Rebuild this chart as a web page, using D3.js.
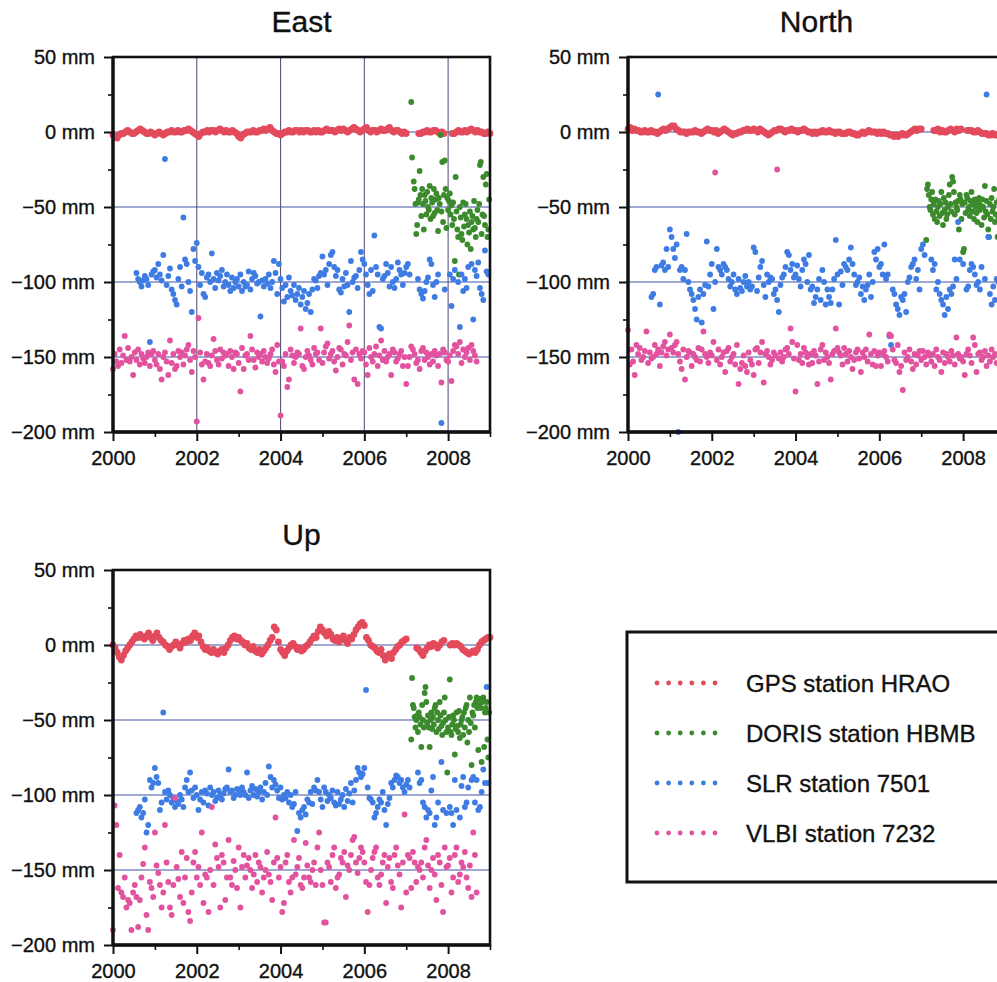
<!DOCTYPE html>
<html><head><meta charset="utf-8">
<script src="https://cdn.jsdelivr.net/npm/d3@7"></script>
<style>
body{margin:0;background:#fff}
svg{display:block}
text{font-family:"Liberation Sans",Arial,Helvetica,sans-serif;fill:#111;stroke:#111;stroke-width:0.35px}
</style>
</head><body>
<svg id="chart" width="997" height="982"></svg>
<script>
// ---------------- data ----------------
const seriesNames = ["GPS station HRAO","DORIS station HBMB","SLR station 7501","VLBI station 7232"];
const seriesColors = ["#e34a5c","#3b8a2c","#3e7ce4","#e2529e"];
const seriesOffsets = [0,-50,-100,-150];   // display offset of each technique (mm)
const panelTitles = ["East","North","Up"];
const yTickValues = [50,0,-50,-100,-150,-200];
const yMinorValues = [25,-25,-75,-125,-175];
const xTickValues = [2000,2002,2004,2006,2008];
const xMinorValues = [2001,2003,2005,2007,2009];
const gridValues = [0,-50,-100,-150];

// epochs: each row starts at rowStart[r] and advances by step
const gpsRowStart = [2000,2001,2002,2003,2004,2005,2006,2007,2008,2009], gpsStep = 0.05;
const slrRowStart = [2000.56,2001,2002,2003,2004,2005,2006,2007,2008], slrStep = 0.04;
const vlbiRowStart = [2000,2001,2002,2003,2004,2005,2006,2007,2008], vlbiStep = 0.04;
const dorisRowStart = [2007.12,2008], dorisStep = 0.02;

// residuals (mm) relative to offset
const eastGPS = [
 [-2,-3,-4,-2,-1,-1,0,1,0,-1,-1,0,1,2,1,0,-1,-1,0,-1],
 [-2,-1,0,-1,-2,-1,0,0,1,0,0,1,0,0,1,1,2,1,0,-1],
 [-2,-3,-1,0,0,1,0,1,1,0,1,2,1,0,1,0,0,1,0,-1],
 [-3,-4,-2,-1,0,0,0,1,0,0,1,1,2,1,2,3,1,0,-1,-1],
 [-2,-1,0,0,1,0,0,1,1,0,1,0,1,1,0,0,1,0,1,0],
 [0,1,2,1,1,1,0,1,2,1,2,1,0,1,2,3,2,1,0,1],
 [2,3,1,0,1,1,0,1,2,1,1,2,3,1,0,1,1,0,-1,0],
 [-1,null,null,null,null,null,-1,-1,0,0,1,0,0,1,1,0,-1,0,-1,null],
 [null,null,-1,-1,0,1,0,0,1,0,1,2,1,0,1,0,0,-1,-1,0],
 [-1]];
const eastDORIS = [
 [70,33,null,17,12,2,-18,-12,3,5,24,8,-6,12,2,-15,8,4,-5,10,0,-2,14,-8,6,3,-6,12,-4,5,9,-2,-16,6,2,48,-3,30,-10,8,31,12,-14,6],
 [-2,4,9,-5,1,-12,3,-8,-36,20,-3,-15,-20,-45,0,-7,-18,-22,3,-13,-5,2,-8,-25,-12,-17,-3,-28,-10,-6,-15,4,-14,-20,-8,-2,-10,2,28,30,-18,-5,20,-6,-12,15,22,-20,-15,5]];
const eastSLR = [
 [6,2,0,-3,1,4,2,-2,-40,5,7],
 [8,3,12,5,1,18,82,-2,4,9,-5,-8,-12,-15,2,10,-3,43,15,12,0,-6,-20,22,14],
 [26,10,-2,6,-8,-10,3,5,0,19,2,-4,6,1,4,8,-3,0,5,-2,-6,3,-4,0,2],
 [-3,5,-6,0,-3,-2,7,-5,2,6,4,-1,0,-23,1,-3,2,-1,5,-4,0,14,6,-8,12],
 [2,-4,-13,-2,-10,3,-6,-9,-2,-12,-8,-4,-15,-10,-6,-18,-14,-8,-20,-5,2,1,-4,4,6],
 [17,5,8,-2,12,18,20,10,4,8,-5,-7,2,-3,6,-2,-20,14,0,3,4,-4,8,20,15],
 [12,5,-2,-8,8,-6,31,10,5,-30,-31,2,4,12,6,-3,10,0,-4,2,13,8,5,-2,6],
 [10,12,5,null,null,null,null,2,-5,-8,-11,-6,0,3,15,12,-2,-10,0,5,null,-94,null,-5,null],
 [null,5,-16,2,8,null,0,-30,5,-6,2,-4,10,null,12,-25,8,4,13,-4,-8,-12,21,7,5]];
const eastVLBI = [
 [-8,2,-3,-6,5,-4,1,14,-2,6,-3,0,-12,3,-2,5,-5,2,-1,-4,0,3,-6,2,4],
 [-2,-5,2,-8,-15,0,3,-3,-12,11,-4,2,-8,-6,4,0,3,-5,1,5,8,-2,-10,4,0],
 [-43,26,3,-5,-15,-3,2,-4,-6,1,12,4,-2,-5,5,-1,3,1,2,-6,4,0,-8,3,2],
 [-4,-23,6,-8,1,2,-2,14,5,-2,-7,3,0,2,-3,4,0,-4,-1,2,5,-5,-10,8,-3],
 [-39,-3,-6,2,-20,-15,5,1,-4,0,3,2,19,-6,-8,0,4,1,-2,-5,6,2,3,-2,19],
 [-4,3,7,9,-1,2,4,-3,-9,0,6,5,-5,2,1,10,21,-2,3,-15,5,-18,2,-1,4],
 [3,-5,-12,6,0,-3,2,7,-6,1,11,-2,4,-3,0,2,-12,5,3,-3,-1,2,4,-6,0],
 [-18,-6,0,7,5,2,-4,-2,-8,4,6,-2,3,0,-5,2,-3,4,1,-6,2,-17,5,3,-2],
 [-3,1,-16,4,8,7,2,10,-4,5,0,3,6,-2,8,4,1,-3]];

const northGPS = [
 [2,3,1,2,1,1,0,0,1,0,0,1,0,0,-1,0,1,2,1,2],
 [3,4,4,2,1,0,0,0,-1,0,0,0,1,0,0,-1,0,1,2,1],
 [1,0,1,-1,0,1,2,1,0,-1,-2,-1,-1,0,0,1,1,2,1,1],
 [2,1,0,2,1,0,-1,-2,-1,0,1,1,2,2,1,0,1,1,2,1],
 [1,0,1,1,2,1,0,0,-1,0,-1,0,0,1,0,0,1,0,0,-1],
 [0,0,-1,-1,-1,0,0,-1,-1,-2,-2,-1,0,-1,0,1,0,0,0,-1],
 [0,-1,0,-1,-1,-2,-2,-3,-2,-3,-2,-1,-2,-2,-1,0,1,2,1,2],
 [2,null,null,null,null,null,1,1,2,0,1,0,0,1,2,1,0,2,1,2],
 [null,null,1,1,1,0,0,1,0,-1,-1,-1,-2,-2,-1,-2,-2,-1,-1,-2],
 [-2]];
const northDORIS = [
 [-22,12,15,8,0,-2,5,10,-5,2,-8,5,-3,-10,0,4,-6,2,10,-4,-12,6,-2,3,-8,-5,0,8,15,2,-3,20,17,10,-5,3,0,-2,4,-15,8,5,-8,2],
 [-30,-28,3,-4,8,6,-2,0,-6,4,10,-3,2,-8,5,0,-4,-10,3,6,-2,1,-12,5,0,-7,14,-3,4,-5,-15,-20,2,-8,6,-3,0,12,-10,-5,3,-20,-8,5,0,-12,2,-6,4,0]];
const northSLR = [
 [-10,-8,8,10,125,-15,11,13,8,22,10],
 [35,30,22,16,25,-100,8,10,2,8,32,0,-5,-8,-12,-18,-25,-10,-5,-27,-8,-2,27,-3,5],
 [12,-18,0,22,10,8,5,12,10,8,2,-3,0,5,-5,-8,2,-4,-6,0,4,-3,0,-5,-3],
 [23,20,-6,3,10,14,-2,-10,5,0,3,2,-8,-5,-12,-20,-2,3,5,10,20,18,8,12,3],
 [5,11,2,-3,8,15,12,0,18,-5,-3,-14,-10,-5,2,-12,8,0,-15,-5,-10,-14,-5,2,28],
 [5,-15,7,-2,12,10,8,15,23,12,5,-2,0,3,-8,-3,-12,-5,-2,5,-10,0,20,15,22],
 [10,12,5,25,2,5,-36,-42,-5,-8,-15,-18,-22,-10,-12,-8,-20,0,3,10,12,15,2,8,-5],
 [22,25,18,null,null,null,15,8,12,-5,0,-8,-12,-15,-22,-10,-18,-5,-8,-3,15,2,40,15,null],
 [12,null,-5,-3,8,12,10,5,-2,0,-5,10,null,2,125,30,-8,-15,-3,-12,2,0,-5,null,-8]];
const northVLBI = [
 [18,-5,5,-3,-12,8,2,6,-2,0,4,17,-4,3,-1,0,8,2,5,-6,3,7,10,1,5],
 [15,6,3,8,10,2,-3,-8,5,-15,0,4,3,-6,2,0,-2,6,-3,5,17,2,0,-4,3],
 [1,10,123,-2,5,-5,0,3,-10,4,6,-3,0,2,-5,8,-18,-8,-4,1,-6,-10,3,-2,-5],
 [-12,5,6,-4,3,10,-17,2,4,0,-5,-2,3,1,125,-1,3,-3,0,5,6,2,19,10,-1],
 [-23,8,-2,2,-4,6,3,0,-5,2,-4,4,1,-18,-3,5,8,-2,3,0,-4,-15,2,4,19],
 [6,3,1,-5,6,2,-3,4,0,-8,-2,3,5,-1,-10,3,0,5,-3,15,2,-5,4,-6,1],
 [3,-6,2,4,0,-3,15,14,5,-2,-4,8,-10,-6,-22,3,-2,0,5,-3,-8,2,-5,1,4],
 [-2,4,0,-5,3,1,-3,2,-6,5,0,-2,-10,3,-4,2,0,-3,4,1,-5,13,2,-1,0],
 [-3,-12,2,5,1,-4,13,8,-10,2,3,-2,0,4,-6,1,-3,5,0,2,-4]];

const upGPS = [
 [0,-2,-5,-8,-10,-7,-4,-2,0,2,4,6,5,7,5,4,6,8,5,3],
 [6,8,5,3,2,0,-1,-3,-1,0,2,0,-2,1,3,2,4,3,6,8],
 [5,6,2,-1,-3,-2,-4,-5,-3,-5,-6,-4,-3,-5,-2,0,3,5,6,4],
 [5,3,2,0,1,-2,-3,-1,-4,-5,-3,-6,-4,-2,0,3,5,12,10,2],
 [-3,-5,-7,-4,-2,0,1,-1,-3,-2,-4,-3,-1,0,2,4,6,5,9,12],
 [10,8,6,9,7,4,3,5,2,4,6,3,1,5,4,7,10,12,14,15],
 [13,5,3,0,-1,-2,-4,-5,-3,-7,-10,-8,-6,-9,-5,-3,-1,0,2,3],
 [4,null,null,null,null,-2,-3,-5,-7,-4,-2,0,-1,1,0,-2,0,2,3,null],
 [null,0,1,0,1,0,-1,-3,-4,-5,-6,-5,-4,-5,-3,0,2,3,4,5],
 [5]];
const upDORIS = [
 [-13,28,10,8,2,-5,0,3,-8,5,2,-3,-18,10,0,-5,18,22,12,-2,3,-5,-18,0,5,-6,2,-3,8,10,-8,5,0,-6,12,3,-4,-10,-2,5,15,0,-8,-35],
 [-5,2,27,-8,-10,-3,3,0,-23,-6,5,-4,-8,6,-12,-3,0,2,-10,5,-5,8,10,-15,0,-8,15,-2,-30,5,3,10,-5,12,15,8,-20,10,14,8,-28,12,15,-18,5,8,12,-13,-25,5]];
const upSLR = [
 [-12,-10,-8,-15,-12,-3,-25,-20,10,5,8],
 [18,12,8,-10,-5,55,2,-3,3,0,-5,-2,-8,-4,-6,0,-3,-8,5,10,2,15,3,-2,5],
 [0,-10,-3,2,-5,3,1,-7,5,0,2,-4,-2,3,0,-3,1,4,5,17,2,3,-2,0,4],
 [3,0,5,2,0,15,-2,3,6,0,4,-1,2,5,-3,2,8,0,19,12,5,10,7,3,-2],
 [5,-3,0,-2,2,-5,0,-8,-6,2,-24,-12,-15,-10,-8,-13,-3,-5,2,-6,5,3,10,2,-3],
 [-8,5,2,-4,0,-2,3,-5,-7,2,-6,-3,0,-8,4,-4,1,8,-5,3,10,18,15,12,14],
 [18,70,5,-2,-3,-5,-15,-12,-8,-3,-5,2,-10,-20,-6,-2,8,5,10,13,12,8,10,5,2],
 [7,10,5,null,null,null,null,15,8,10,-5,-8,-15,-10,-12,3,12,-20,-15,-5,null,22,-10,null,-12],
 [null,-8,-12,-20,10,-10,null,-15,6,12,-8,-5,5,null,10,12,-5,10,-10,-8,2,17,8,72,8]];
const upVLBI = [
 [-40,43,30,-12,10,-15,-18,-5,-25,-20,-22,-40,-15,-10,-18,-38,-20,-5,4,15,-30,-40,-8,-12,-18],
 [25,3,-2,-10,-25,-15,30,5,-8,-25,-30,-10,48,2,-6,-18,12,-22,-5,8,-28,-34,-15,5,12],
 [-5,2,-10,25,-22,-3,-5,-28,0,42,-10,17,8,2,-25,10,5,-20,-5,20,-5,-10,6,0,-12],
 [15,-25,2,10,-5,3,8,0,-12,-3,10,-8,5,2,-15,-5,0,12,-3,-8,-20,5,35,8,-5],
 [2,-28,-22,5,10,-8,-15,-5,20,-3,2,8,-10,-12,-5,18,3,-5,-8,0,5,-10,15,25,0],
 [-10,-35,-35,5,2,-8,10,15,-12,-5,-3,8,5,12,-18,3,0,10,20,22,5,-2,8,15,12],
 [5,-8,-28,-10,0,8,12,15,-5,-10,-3,5,10,-22,2,8,-8,-12,10,15,3,-3,-25,5,37],
 [-15,10,8,-12,12,5,-8,2,0,5,-5,15,20,3,-12,0,8,-3,-20,10,5,-10,-28,15,2],
 [3,8,-15,-5,10,15,-8,-3,5,2,12,-5,-12,3,-18,25,10,-15]];

// ---------------- drawing ----------------
const svg = d3.select("#chart");
const W = 377, H = 375;

function expand(rows, rowStart, step, offset){
  const out = [];
  rows.forEach((row, r) => row.forEach((v, j) => {
    if (v !== null) out.push({t: rowStart[r] + j*step, v: offset + v});
  }));
  return out;
}

function fmtMM(d){ return (d < 0 ? "\u2212" + Math.abs(d) : d) + " mm"; }

function drawPanel(title, sets, left, top, vgrid){
  const g = svg.append("g");
  const x = d3.scaleLinear().domain([2000, 2009]).range([left, left + W]);
  const y = d3.scaleLinear().domain([-200, 50]).range([top + H, top]);

  // grid
  g.selectAll(".hg").data(gridValues).join("line")
    .attr("x1", left).attr("x2", left + W)
    .attr("y1", d => y(d)).attr("y2", d => y(d))
    .attr("stroke", "#3e52a8").attr("stroke-width", 1.1);
  if (vgrid){
    g.selectAll(".vg").data(xTickValues.slice(1)).join("line")
      .attr("x1", d => x(d)).attr("x2", d => x(d))
      .attr("y1", top).attr("y2", top + H)
      .attr("stroke", "#5c587e").attr("stroke-width", 1.1);
  }

  // points
  const pts = [
    expand(sets[0], gpsRowStart, gpsStep, seriesOffsets[0]),
    expand(sets[1], dorisRowStart, dorisStep, seriesOffsets[1]),
    expand(sets[2], slrRowStart, slrStep, seriesOffsets[2]),
    expand(sets[3], vlbiRowStart, vlbiStep, seriesOffsets[3])
  ];
  pts.forEach((arr, k) => {
    g.append("g").selectAll("circle").data(arr).join("circle")
      .attr("cx", d => x(d.t)).attr("cy", d => y(d.v))
      .attr("r", k === 0 ? 3.4 : 2.9)
      .attr("fill", seriesColors[k]);
  });

  // frame
  g.append("rect").attr("x", left).attr("y", top).attr("width", W).attr("height", H)
    .attr("fill", "none").attr("stroke", "#111").attr("stroke-width", 2.6);
  g.append("line").attr("x1", left).attr("x2", left).attr("y1", top).attr("y2", top + H)
    .attr("stroke", "#111").attr("stroke-width", 3.3);
  g.append("line").attr("x1", left).attr("x2", left + W).attr("y1", top + H).attr("y2", top + H)
    .attr("stroke", "#111").attr("stroke-width", 3.3);

  // y axis
  const ya = g.append("g").attr("transform", `translate(${left},0)`)
    .call(d3.axisLeft(y).tickValues(yTickValues).tickSize(9).tickPadding(9).tickFormat(fmtMM));
  ya.select(".domain").remove();
  ya.selectAll("line").attr("stroke", "#111").attr("stroke-width", 2);
  ya.selectAll("text").attr("font-size", 20).attr("fill", "#111")
    .style("font-family", "'Liberation Sans', Arial, sans-serif");
  const ym = g.append("g").attr("transform", `translate(${left},0)`)
    .call(d3.axisLeft(y).tickValues(yMinorValues).tickSize(5).tickFormat(""));
  ym.select(".domain").remove();
  ym.selectAll("line").attr("stroke", "#111").attr("stroke-width", 1.6);

  // x axis
  const xa = g.append("g").attr("transform", `translate(0,${top + H})`)
    .call(d3.axisBottom(x).tickValues(xTickValues).tickSize(9).tickPadding(10).tickFormat(d3.format("d")));
  xa.select(".domain").remove();
  xa.selectAll("line").attr("stroke", "#111").attr("stroke-width", 2);
  xa.selectAll("text").attr("font-size", 20).attr("fill", "#111")
    .style("font-family", "'Liberation Sans', Arial, sans-serif");
  const xm = g.append("g").attr("transform", `translate(0,${top + H})`)
    .call(d3.axisBottom(x).tickValues(xMinorValues).tickSize(5).tickFormat(""));
  xm.select(".domain").remove();
  xm.selectAll("line").attr("stroke", "#111").attr("stroke-width", 1.6);

  // title
  g.append("text").attr("x", left + W / 2).attr("y", top - 25)
    .attr("text-anchor", "middle").attr("font-size", 30).text(title);
}

drawPanel(panelTitles[0], [eastGPS, eastDORIS, eastSLR, eastVLBI], 113, 57, true);
drawPanel(panelTitles[1], [northGPS, northDORIS, northSLR, northVLBI], 628, 57, false);
drawPanel(panelTitles[2], [upGPS, upDORIS, upSLR, upVLBI], 113, 570, false);

// legend
const lg = svg.append("g");
lg.append("rect").attr("x", 627).attr("y", 632).attr("width", 420).attr("height", 250)
  .attr("fill", "none").attr("stroke", "#111").attr("stroke-width", 3);
const dotIdx = d3.range(6);
seriesNames.forEach((name, k) => {
  const cy = 683 + k * 50;
  lg.append("g").selectAll("circle").data(dotIdx).join("circle")
    .attr("cx", i => 657 + i * 11.6).attr("cy", cy).attr("r", 2.4)
    .attr("fill", seriesColors[k]);
  lg.append("text").attr("x", 746).attr("y", cy + 9).attr("font-size", 24).text(name);
});
</script>
</body></html>
